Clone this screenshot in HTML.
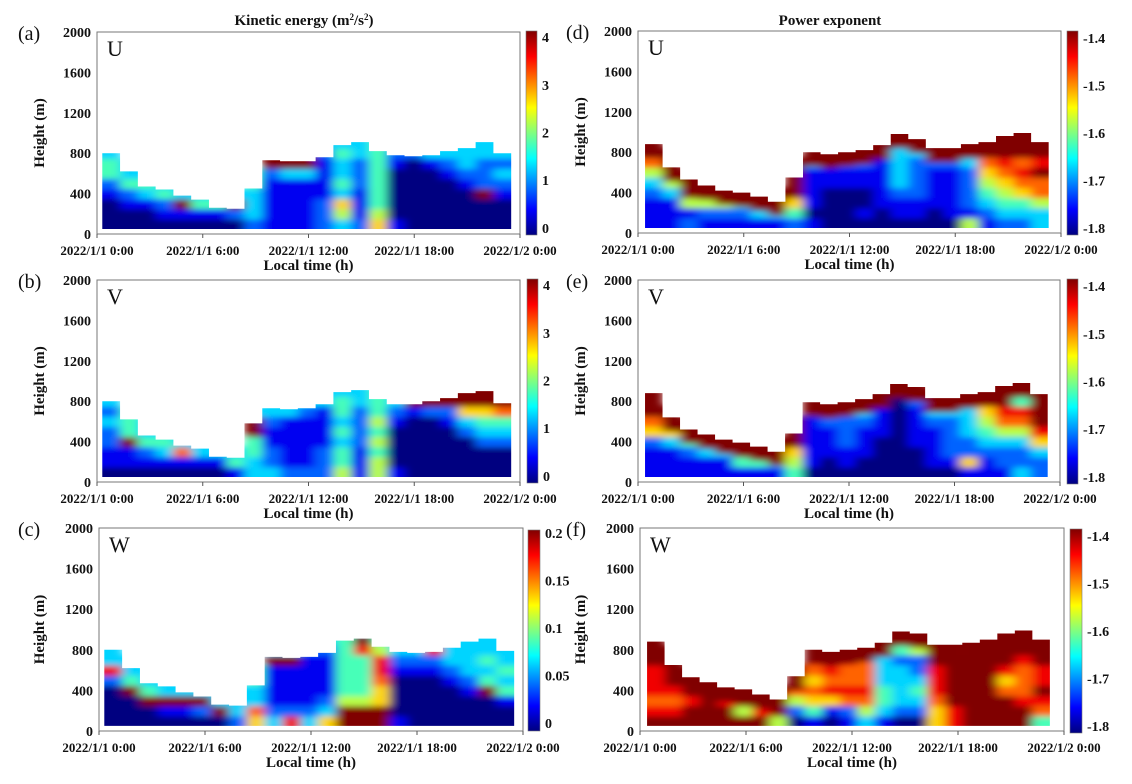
<!DOCTYPE html>
<html><head><meta charset="utf-8">
<style>
html,body{margin:0;padding:0;background:#fff;}
svg{display:block;font-family:"Liberation Serif",serif;}
.tk{font-weight:bold;font-size:13px;fill:#111;font-family:"Liberation Serif",serif;}
.ytk{font-weight:bold;font-size:14px;fill:#111;font-family:"Liberation Serif",serif;}
.ttl{font-weight:bold;font-size:15px;fill:#111;font-family:"Liberation Serif",serif;}
</style></head>
<body>
<svg id="fig" width="1132" height="784" viewBox="0 0 1132 784" xmlns="http://www.w3.org/2000/svg">
<defs>
<filter id="soft" x="-10%" y="-20%" width="120%" height="140%"><feGaussianBlur stdDeviation="5 3"/></filter>
</defs>
</svg>
<script>
// ---------- data ----------
const timeTicks=[0,6,12,18,24];
const timeTickLabels=["2022/1/1 0:00","2022/1/1 6:00","2022/1/1 12:00","2022/1/1 18:00","2022/1/2 0:00"];
const heightTicks=[0,400,800,1200,1600,2000];
const keUVTicks=[0,1,2,3,4];
const keWTicks=[0,0.05,0.1,0.15,0.2];
const keWTickLabels=["0","0.05","0.1","0.15","0.2"];
const peTicks=[-1.8,-1.7,-1.6,-1.5,-1.4];
const rowHeights=[50,150,250,350,450,550,650,750,850,950];
// thickness (m) of the saturated band just below the top, power-exponent panels
const peTopBand=140;
// boundary-layer top per column (m), consecutive hourly bins
const topsA=[800,620,470,440,380,340,260,250,450,730,720,720,760,880,910,820,780,770,780,820,850,910,800];
const topsB=[800,620,460,420,360,330,250,240,580,730,720,730,770,890,910,820,770,770,800,830,880,900,780];
const topsC=[800,620,470,440,380,340,260,250,450,730,720,730,770,890,910,830,780,770,780,820,880,910,790];
const topsD=[880,650,530,470,420,400,360,310,550,800,780,800,820,870,980,930,840,840,880,900,960,990,900];
const topsE=[880,640,520,470,420,390,350,300,480,790,770,790,820,870,970,940,830,830,870,890,950,980,870];
const topsF=[880,650,530,480,430,410,360,310,540,800,780,800,820,870,980,960,850,850,870,900,960,990,900];
// colour level 0 (low) .. 9 (high), per column bottom-to-top
const gridA=["0001244333","0012433333","0013433333","0124333333","0193333333","0143333333","0143333333","0293333333","2333443333","1111129999","1111139999","1111139999","2221111233","3563433433","2111222333","6544444444","1000001233","0000000233","0000001333","0000012333","0000123333","0009222333","0001232333"];
const gridB=["0112232333","0119444333","0124333333","0134333333","0173333333","0133333333","0133333333","1433333333","3344993333","3221123333","2111113333","2111112333","2221111333","5443434433","1112222333","5545454443","1000012333","0000001933","0000002999","0000012999","0000236999","0002346999","0002347999"];
const gridC=["0000283333","0009433333","0094333333","0193333333","0193333333","0293333333","0933333333","2333333333","6733443333","3211119333","8211119333","3211111233","6321111233","9954444443","9954444893","9966788543","1000012333","0000012333","0000012833","0000123333","0001233333","0009434333","0014343333"];
const gridD=["1112357899","1113589999","2159999999","1259999999","1259999999","1249999999","1399999999","1399999999","2469999999","1011113699","0000112599","0000112599","0100112699","0011111369","0112333399","0112222399","0011112299","0111112399","5122223399","1234567999","2345678999","2346787999","3357798999"];
const gridE=["1112679999","1113689999","1124999999","1139999999","1139999999","1499999999","1499999999","1399999999","4565999999","0111112999","0011122999","0112222999","0011123999","0000111139","0000000099","0001111299","0111123999","0122223999","1622333999","1123456899","1223578999","3223578499","2236899999"];
const gridF=["9878889999","9878999999","9989999999","9998999999","9989999999","9599999999","9899999999","5999999999","0257899999","1467678999","0168787999","1278778999","3578777899","1344333599","0233332499","0234322599","6678889999","8899999999","9999999799","9999999999","9997689999","9987778999","4789889999"];

// ---------- layout ----------
const panels=[
 {id:"a",comp:"U",x0:97,x1:520,y0:32,y1:234,cb:[526,537,31,235],tops:topsA,grid:gridA,t0:0.3,t1:23.5,kind:"ke"},
 {id:"b",comp:"V",x0:97,x1:520,y0:280,y1:482,cb:[527,538,279,483],tops:topsB,grid:gridB,t0:0.3,t1:23.5,kind:"ke"},
 {id:"c",comp:"W",x0:99,x1:523,y0:528,y1:731,cb:[528,540,530,731],tops:topsC,grid:gridC,t0:0.3,t1:23.5,kind:"kew"},
 {id:"d",comp:"U",x0:638,x1:1061,y0:31,y1:233,cb:[1067,1078,31,235],tops:topsD,grid:gridD,t0:0.4,t1:23.3,kind:"pe"},
 {id:"e",comp:"V",x0:638,x1:1060,y0:280,y1:482,cb:[1067,1078,279,484],tops:topsE,grid:gridE,t0:0.4,t1:23.3,kind:"pe"},
 {id:"f",comp:"W",x0:640,x1:1064,y0:528,y1:731,cb:[1070,1082,529,733],tops:topsF,grid:gridF,t0:0.4,t1:23.2,kind:"pe"}
];
const NS="http://www.w3.org/2000/svg";
const svg=document.getElementById("fig");
const defs=svg.querySelector("defs");
function mk(tag,attrs,parent){const e=document.createElementNS(NS,tag);for(const k in attrs)e.setAttribute(k,attrs[k]);(parent||svg).appendChild(e);return e;}
function cl(v){return Math.max(0,Math.min(1,v));}
function jet(t){const r=cl(1.5-Math.abs(4*t-3)),g=cl(1.5-Math.abs(4*t-2)),b=cl(1.5-Math.abs(4*t-1));return "rgb("+Math.round(r*255)+","+Math.round(g*255)+","+Math.round(b*255)+")";}

const grad=mk("linearGradient",{id:"jetgrad",x1:"0",y1:"1",x2:"0",y2:"0"},defs);
for(let i=0;i<=16;i++){mk("stop",{offset:(i/16).toString(),"stop-color":jet(i/16)},grad);}

let t=mk("text",{x:304,y:25,"text-anchor":"middle",class:"ttl","font-size":"14"});


t.innerHTML='Kinetic energy (m<tspan font-size="9" dy="-5">2</tspan><tspan dy="5">/s</tspan><tspan font-size="9" dy="-5">2</tspan><tspan dy="5">)</tspan>';
t=mk("text",{x:830,y:25,"text-anchor":"middle",class:"ttl","font-size":"14"});


t.textContent="Power exponent";

panels.forEach(p=>{
  const g=mk("g",{});
  
  
  const xS=h=>p.x0+h/24*(p.x1-p.x0);
  const yS=m=>p.y1-m/2000*(p.y1-p.y0);
  const n=p.tops.length, cw=(p.t1-p.t0)/n;
  let d="M"+xS(p.t0)+","+yS(50);
  p.tops.forEach((tp,k)=>{d+=" L"+xS(p.t0+k*cw)+","+yS(tp)+" L"+xS(p.t0+(k+1)*cw)+","+yS(tp);});
  d+=" L"+xS(p.t1)+","+yS(50)+" Z";
  const cp=mk("clipPath",{id:"clip-"+p.id},defs);
  mk("path",{d:d},cp);
  const outer=mk("g",{"clip-path":"url(#clip-"+p.id+")"},g);
  
  
  const inner=mk("g",{filter:"url(#soft)"},outer);
  p.grid.forEach((col,k)=>{
    for(let r=0;r<rowHeights.length;r++){
      const lo=rowHeights[r], hi=lo+100;
      if(lo>p.tops[k]+100) break;
      const v=parseInt(col[r],10);
      const xa=xS(p.t0+k*cw)-(k===0?14:0), xb=xS(p.t0+(k+1)*cw)+(k===n-1?14:0);
      const ya=yS(hi), yb=yS(r===0?-100:lo);
      const c=mk("rect",{x:xa.toFixed(2),y:ya.toFixed(2),width:(xb-xa+0.6).toFixed(2),height:(yb-ya+0.6).toFixed(2),fill:jet(v/9)},inner);
      
      
    }
    if(p.kind==="pe"){
      const xa=xS(p.t0+k*cw)-(k===0?14:0), xb=xS(p.t0+(k+1)*cw)+(k===n-1?14:0);
      const band=mk("rect",{x:xa.toFixed(2),y:yS(p.tops[k]+120).toFixed(2),width:(xb-xa+0.6).toFixed(2),height:(yS(p.tops[k]-peTopBand)-yS(p.tops[k]+120)).toFixed(2),fill:jet(1)},inner);
      
      
    }
  });
  const fr=mk("rect",{x:p.x0,y:p.y0,width:p.x1-p.x0,height:p.y1-p.y0,fill:"none",stroke:"#777","stroke-width":"1"},g);
  
  
  timeTicks.forEach((h,i)=>{
    const tm=mk("line",{x1:xS(h),x2:xS(h),y1:p.y1,y2:p.y1+4,stroke:"#555"},g);
    
    
    const tl=mk("text",{x:xS(h),y:p.y1+21,"text-anchor":"middle",class:"tk"},g);
    
    
    tl.textContent=timeTickLabels[i];
  });
  heightTicks.forEach(m=>{
    const tl=mk("text",{x:p.x0-6,y:yS(m)+5,"text-anchor":"end",class:"ytk"},g);
    
    
    tl.textContent=m;
  });
  const xt=mk("text",{x:(p.x0+p.x1)/2,y:p.y1+36,"text-anchor":"middle",class:"ttl"},g);
  
  
  xt.textContent="Local time (h)";
  const yx=p.x0<300?44:585, yc=(p.y0+p.y1)/2;
  const yt=mk("text",{x:yx,y:yc,"text-anchor":"middle",class:"ttl",transform:"rotate(-90 "+yx+" "+yc+")"},g);
  
  
  yt.textContent="Height (m)";
  const pl=mk("text",{x:p.x0<300?18:566,y:p.y0+8,"font-size":"20",fill:"#111"},g);
  
  
  pl.textContent="("+p.id+")";
  const cm=mk("text",{x:p.x0+10,y:p.y0+24,"font-size":"22",fill:"#111"},g);
  
  
  cm.textContent=p.comp;
  const [cx0,cx1,cy0,cy1]=p.cb;
  const cbr=mk("rect",{x:cx0,y:cy0,width:cx1-cx0,height:cy1-cy0,fill:"url(#jetgrad)",stroke:"#777","stroke-width":"0.6"},g);
  
  
  let ticks,labels,vmin,vmax;
  if(p.kind==="ke"){ticks=keUVTicks;labels=keUVTicks.map(String);vmin=-0.15;vmax=4.13;}
  else if(p.kind==="kew"){ticks=keWTicks;labels=keWTickLabels;vmin=-0.0084;vmax=0.2032;}
  else {ticks=peTicks;labels=peTicks.map(v=>v.toFixed(1));vmin=-1.815;vmax=-1.385;}
  ticks.forEach((v,i)=>{
    const yy=cy1-(v-vmin)/(vmax-vmin)*(cy1-cy0);
    const cl2=mk("text",{x:cx1+5,y:yy+5,class:"ytk"},g);
    
    
    cl2.textContent=labels[i];
  });
});
</script>
</body></html>
